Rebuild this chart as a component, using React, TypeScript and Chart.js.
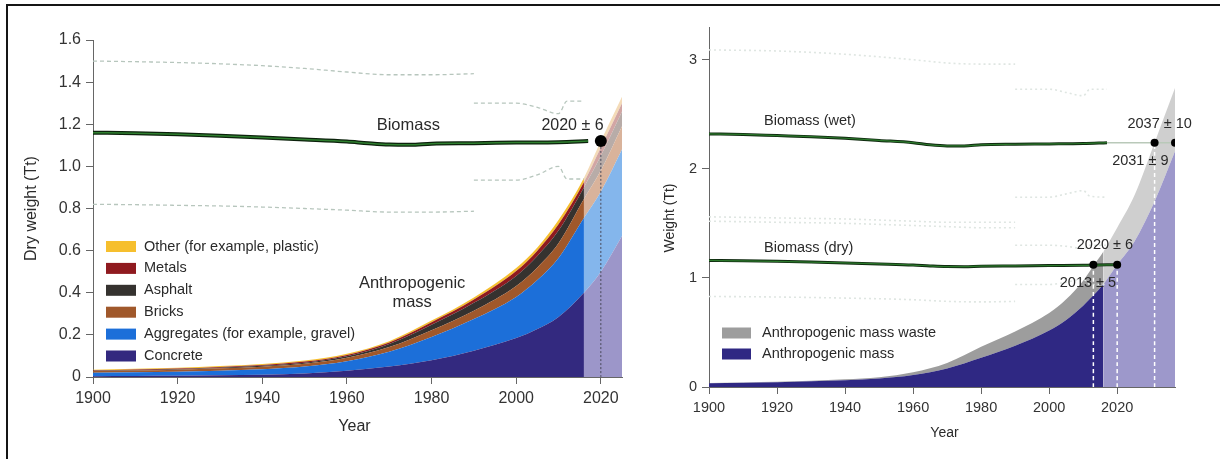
import React, { useEffect, useRef } from 'react';
import { Chart, registerables } from 'chart.js';

Chart.register(...registerables);

const FONT = '"Liberation Sans", Arial, Helvetica, sans-serif';
const TEXT = '#2a2a2a';
const AXIS = '#666666';

// ---------- Left panel: dry weight (Tt) ----------
const YEARS = [1900, 1910, 1920, 1930, 1940, 1950, 1960, 1970, 1980, 1990, 2000, 2005, 2010, 2016, 2020, 2025];
const CONCRETE = [0.004, 0.005, 0.006, 0.008, 0.011, 0.017, 0.030, 0.050, 0.080, 0.125, 0.185, 0.228, 0.285, 0.400, 0.500, 0.670];
const AGGREGATES = [0.016, 0.017, 0.019, 0.022, 0.026, 0.033, 0.045, 0.070, 0.110, 0.150, 0.195, 0.232, 0.280, 0.355, 0.380, 0.410];
const BRICKS = [0.008, 0.009, 0.010, 0.011, 0.012, 0.013, 0.016, 0.022, 0.032, 0.040, 0.052, 0.060, 0.070, 0.090, 0.100, 0.110];
const ASPHALT = [0.002, 0.002, 0.002, 0.003, 0.004, 0.005, 0.008, 0.015, 0.026, 0.037, 0.048, 0.055, 0.060, 0.055, 0.070, 0.070];
const METALS = [0.002, 0.003, 0.003, 0.004, 0.004, 0.005, 0.006, 0.007, 0.012, 0.016, 0.023, 0.025, 0.030, 0.025, 0.040, 0.040];
const OTHER = [0.003, 0.003, 0.004, 0.004, 0.005, 0.005, 0.005, 0.006, 0.008, 0.010, 0.015, 0.015, 0.020, 0.020, 0.030, 0.030];
const PROJECTION_START = 2016;

const BIO_YEARS = [1900, 1910, 1920, 1930, 1940, 1950, 1960, 1965, 1970, 1975, 1980, 1990, 2000, 2010, 2017];
const BIO_DRY = [1.160, 1.157, 1.152, 1.145, 1.137, 1.128, 1.118, 1.110, 1.104, 1.103, 1.108, 1.110, 1.113, 1.115, 1.120];

const UNC_HIST_YEARS = [1900, 1910, 1920, 1930, 1940, 1950, 1960, 1970, 1980, 1990];
const UNC_HIST_UP = [1.500, 1.497, 1.493, 1.487, 1.478, 1.465, 1.448, 1.435, 1.435, 1.440];
const UNC_HIST_LO = [0.820, 0.818, 0.815, 0.812, 0.807, 0.800, 0.792, 0.783, 0.783, 0.787];
const UNC_RECENT_YEARS = [1990, 2000, 2005, 2010, 2012, 2016];
const UNC_RECENT_UP = [1.30, 1.30, 1.28, 1.25, 1.31, 1.31];
const UNC_RECENT_LO = [0.935, 0.935, 0.960, 1.000, 0.940, 0.940];

const CROSS_LEFT = { year: 2020, value: 1.12, label: '2020 ± 6' };

const LEFT_TICKS_Y = [0, 0.2, 0.4, 0.6, 0.8, 1.0, 1.2, 1.4, 1.6];
const LEFT_LEGEND = ['Other (for example, plastic)', 'Metals', 'Asphalt', 'Bricks', 'Aggregates (for example, gravel)', 'Concrete'];

// ---------- Right panel: weight (Tt) ----------
const R_YEARS = [1900, 1910, 1920, 1930, 1940, 1950, 1960, 1970, 1980, 1990, 2000, 2005, 2010, 2013, 2016, 2020, 2025, 2031, 2037];
const R_MASS = [0.035, 0.039, 0.044, 0.052, 0.062, 0.078, 0.110, 0.170, 0.268, 0.378, 0.518, 0.615, 0.745, 0.840, 0.945, 1.120, 1.330, 1.700, 2.160];
const R_WASTE = [0.002, 0.003, 0.004, 0.006, 0.008, 0.012, 0.025, 0.050, 0.100, 0.130, 0.160, 0.190, 0.230, 0.270, 0.300, 0.340, 0.420, 0.540, 0.580];

const R_BIO_YEARS = [1900, 1910, 1920, 1930, 1940, 1950, 1960, 1965, 1970, 1975, 1980, 1990, 2000, 2010, 2017];
const R_BIO_WET = [2.320, 2.315, 2.305, 2.295, 2.280, 2.260, 2.240, 2.220, 2.210, 2.210, 2.220, 2.225, 2.228, 2.232, 2.240];
const R_BIO_DRY_YEARS = [1900, 1910, 1920, 1930, 1940, 1950, 1960, 1965, 1970, 1975, 1980, 1990, 2000, 2010, 2017, 2020];
const R_BIO_DRY = [1.160, 1.157, 1.152, 1.145, 1.137, 1.128, 1.118, 1.110, 1.104, 1.103, 1.108, 1.110, 1.113, 1.115, 1.120, 1.120];
const R_WET_PROJ_YEARS = [2017, 2037];
const R_WET_PROJ = [2.24, 2.24];

const R_UNC_HIST_YEARS = [1900, 1920, 1940, 1960, 1970, 1980, 1990];
const R_WET_UP = [3.09, 3.08, 3.05, 3.00, 2.97, 2.96, 2.96];
const R_WET_LO_A = [1.56, 1.55, 1.54, 1.52, 1.51, 1.51, 1.51];
const R_WET_LO_B = [1.52, 1.51, 1.50, 1.48, 1.47, 1.46, 1.46];
const R_DRY_LO = [0.83, 0.825, 0.815, 0.80, 0.785, 0.78, 0.785];
const R_UNC_RECENT_YEARS = [1990, 2000, 2005, 2010, 2012, 2017];
const R_WET_UP_RECENT = [2.73, 2.73, 2.70, 2.67, 2.73, 2.73];
const R_WET_LO_RECENT = [1.74, 1.74, 1.77, 1.80, 1.75, 1.74];
const R_DRY_UP_RECENT = [1.30, 1.30, 1.29, 1.27, 1.30, 1.30];
const R_DRY_LO_RECENT = [0.94, 0.94, 0.96, 0.99, 0.94, 0.94];

const R_CROSSINGS = [
  { year: 2013, value: 1.12, label: '2013 ± 5' },
  { year: 2020, value: 1.12, label: '2020 ± 6' },
  { year: 2031, value: 2.24, label: '2031 ± 9' },
  { year: 2037, value: 2.24, label: '2037 ± 10' },
];
const RIGHT_LEGEND = ['Anthropogenic mass waste', 'Anthropogenic mass'];

// ---------- helpers ----------
const pts = (xs: number[], ys: number[]) => xs.map((x, i) => ({ x, y: ys[i] }));

function areaSet(label: string, xs: number[], ys: number[], dark: string, light: string, first: boolean) {
  return {
    label,
    data: pts(xs, ys),
    stack: 'mass',
    fill: first ? 'origin' : '-1',
    backgroundColor: dark,
    borderColor: dark,
    borderWidth: 0,
    pointRadius: 0,
    cubicInterpolationMode: 'monotone',
    order: 5,
    segment: {
      backgroundColor: (c: any) => (c.p0.parsed.x >= PROJECTION_START ? light : dark),
    },
  };
}

let uid = 0;
function lineSet(data: any[], color: string, width: number, dash: number[] = [], order = 1) {
  uid += 1;
  return {
    data,
    stack: 'l' + uid,
    fill: false,
    borderColor: color,
    borderWidth: width,
    borderDash: dash,
    pointRadius: 0,
    cubicInterpolationMode: 'monotone',
    order,
  };
}

function dotSet(x: number, y: number, r: number) {
  uid += 1;
  return {
    data: [{ x, y }],
    stack: 'd' + uid,
    showLine: false,
    fill: false,
    pointRadius: r,
    pointBackgroundColor: '#000',
    pointBorderWidth: 0,
    order: -2,
  };
}

function axisOpts(min: number, max: number, step: number, size: number, fmt: (v: number) => string, tickLen: number, pad: number) {
  return {
    type: 'linear',
    min,
    max,
    ticks: {
      stepSize: step,
      includeBounds: false,
      autoSkip: false,
      maxRotation: 0,
      color: '#333',
      padding: pad,
      font: { family: FONT, size },
      callback: (v: any) => fmt(Number(v)),
    },
    grid: { drawOnChartArea: false, drawTicks: true, tickLength: tickLen, color: AXIS, lineWidth: 1 },
    border: { display: true, color: AXIS, width: 1 },
  };
}

function textAt(ctx: CanvasRenderingContext2D, t: string, x: number, y: number, size: number, align: CanvasTextAlign = 'center', rot = 0) {
  ctx.save();
  ctx.font = `${size}px ${FONT}`;
  ctx.fillStyle = TEXT;
  ctx.textAlign = align;
  ctx.textBaseline = 'middle';
  ctx.translate(x, y);
  if (rot) ctx.rotate(rot);
  ctx.fillText(t, 0, 0);
  ctx.restore();
}

const LEFT_COLORS = ['#f6bf2e', '#8f1a1f', '#35322f', '#a0582b', '#1c6fd9', '#33297f'];

function buildLeft(canvas: HTMLCanvasElement) {
  const datasets: any[] = [
    areaSet('Concrete', YEARS, CONCRETE, '#33297f', '#9c96c9', true),
    areaSet('Aggregates', YEARS, AGGREGATES, '#1c6fd9', '#84b6ec', false),
    areaSet('Bricks', YEARS, BRICKS, '#a0582b', '#d9b39b', false),
    areaSet('Asphalt', YEARS, ASPHALT, '#35322f', '#b8aca8', false),
    areaSet('Metals', YEARS, METALS, '#8f1a1f', '#d2a6a4', false),
    areaSet('Other', YEARS, OTHER, '#f6bf2e', '#f4dbb8', false),
    lineSet(pts(UNC_HIST_YEARS, UNC_HIST_UP), '#b7c6bd', 1.3, [4, 3]),
    lineSet(pts(UNC_HIST_YEARS, UNC_HIST_LO), '#b7c6bd', 1.3, [4, 3]),
    lineSet(pts(UNC_RECENT_YEARS, UNC_RECENT_UP), '#b7c6bd', 1.3, [4, 3]),
    lineSet(pts(UNC_RECENT_YEARS, UNC_RECENT_LO), '#b7c6bd', 1.3, [4, 3]),
    lineSet([{ x: CROSS_LEFT.year, y: 0 }, { x: CROSS_LEFT.year, y: CROSS_LEFT.value }], '#4a4a5a', 1, [2, 2], -1),
    lineSet(pts(BIO_YEARS, BIO_DRY), '#0c220c', 4, [], 0),
    lineSet(pts(BIO_YEARS, BIO_DRY), '#2f7f2f', 1.5, [], -1),
    dotSet(CROSS_LEFT.year, CROSS_LEFT.value, 6),
  ];

  const plugin = {
    id: 'leftText',
    afterDraw(chart: any) {
      const ctx = chart.ctx;
      const xs = chart.scales.x;
      const ys = chart.scales.y;
      const a = chart.chartArea;
      textAt(ctx, 'Dry weight (Tt)', 32, (a.top + a.bottom) / 2, 16, 'center', -Math.PI / 2);
      textAt(ctx, 'Year', (a.left + a.right) / 2 - 3, 427, 16);
      textAt(ctx, 'Biomass', xs.getPixelForValue(1974.5), ys.getPixelForValue(1.195), 16.5);
      textAt(ctx, CROSS_LEFT.label, xs.getPixelForValue(2013.3), ys.getPixelForValue(1.195), 16);
      textAt(ctx, 'Anthropogenic', xs.getPixelForValue(1975.4), ys.getPixelForValue(0.445), 16.5);
      textAt(ctx, 'mass', xs.getPixelForValue(1975.4), ys.getPixelForValue(0.355), 16.5);
      LEFT_LEGEND.forEach((t, i) => {
        const cy = 246.5 + i * 21.9;
        ctx.fillStyle = LEFT_COLORS[i];
        ctx.fillRect(a.left + 13, cy - 5.5, 30, 11);
        textAt(ctx, t, a.left + 51, cy, 14.5, 'left');
      });
    },
  };

  return new Chart(canvas, {
    type: 'line',
    data: { datasets },
    plugins: [plugin],
    options: {
      responsive: false,
      animation: false,
      events: [],
      layout: { padding: { left: 0, top: 40, right: 8, bottom: 0 } },
      plugins: { legend: { display: false }, tooltip: { enabled: false } },
      scales: {
        x: {
          ...axisOpts(1900, 2025, 20, 16, (v) => String(v), 7, 5),
          afterFit: (s: any) => { s.height = 82; },
        },
        y: {
          ...axisOpts(0, 1.6, 0.2, 16, (v) => (Math.abs(v) < 1e-9 ? '0' : v.toFixed(1)), 7, 5),
          stacked: true,
          afterBuildTicks: (s: any) => { s.ticks = LEFT_TICKS_Y.map((value) => ({ value })); },
          afterFit: (s: any) => { s.width = 93; },
        },
      },
    } as any,
  });
}

function buildRight(canvas: HTMLCanvasElement) {
  const faint = '#dfe6e2';
  const datasets: any[] = [
    areaSet('Anthropogenic mass', R_YEARS, R_MASS, '#2f2883', '#9d98cb', true),
    areaSet('Anthropogenic mass waste', R_YEARS, R_WASTE, '#9d9d9d', '#cfcfcf', false),
    lineSet(pts(R_UNC_HIST_YEARS, R_WET_UP), faint, 1.6, [2, 3]),
    lineSet(pts(R_UNC_HIST_YEARS, R_WET_LO_A), faint, 1.6, [2, 3]),
    lineSet(pts(R_UNC_HIST_YEARS, R_WET_LO_B), faint, 1.6, [2, 3]),
    lineSet(pts(R_UNC_HIST_YEARS, R_DRY_LO), faint, 1.6, [2, 3]),
    lineSet(pts(R_UNC_RECENT_YEARS, R_WET_UP_RECENT), faint, 1.6, [2, 3]),
    lineSet(pts(R_UNC_RECENT_YEARS, R_WET_LO_RECENT), faint, 1.6, [2, 3]),
    lineSet(pts(R_UNC_RECENT_YEARS, R_DRY_UP_RECENT), faint, 1.6, [2, 3]),
    lineSet(pts(R_UNC_RECENT_YEARS, R_DRY_LO_RECENT), faint, 1.6, [2, 3]),
    ...R_CROSSINGS.slice(0, 3).map((c) =>
      lineSet([{ x: c.year, y: 0 }, { x: c.year, y: c.value }], '#ffffff', 1.5, [4, 3], -1)),
    lineSet(pts(R_WET_PROJ_YEARS, R_WET_PROJ), '#b9c9b9', 1.5, [], 0),
    lineSet(pts(R_BIO_YEARS, R_BIO_WET), '#102a10', 3, [], 0),
    lineSet(pts(R_BIO_YEARS, R_BIO_WET), '#2c7a2c', 1.2, [], -1),
    lineSet(pts(R_BIO_DRY_YEARS, R_BIO_DRY), '#102a10', 3, [], 0),
    lineSet(pts(R_BIO_DRY_YEARS, R_BIO_DRY), '#2c7a2c', 1.2, [], -1),
    ...R_CROSSINGS.map((c) => dotSet(c.year, c.value, 4)),
  ];

  const plugin = {
    id: 'rightText',
    afterDraw(chart: any) {
      const ctx = chart.ctx;
      const xs = chart.scales.x;
      const ys = chart.scales.y;
      const a = chart.chartArea;
      textAt(ctx, 'Weight (Tt)', 40, 218, 14, 'center', -Math.PI / 2);
      textAt(ctx, 'Year', 314.5, 433, 14);
      textAt(ctx, 'Biomass (wet)', a.left + 55, ys.getPixelForValue(2.435), 14.5, 'left');
      textAt(ctx, 'Biomass (dry)', a.left + 55, ys.getPixelForValue(1.275), 14.5, 'left');
      textAt(ctx, R_CROSSINGS[3].label, xs.getPixelForValue(2032.5), ys.getPixelForValue(2.415), 14.5);
      textAt(ctx, R_CROSSINGS[2].label, xs.getPixelForValue(2026.8), ys.getPixelForValue(2.07), 14.5);
      textAt(ctx, R_CROSSINGS[1].label, xs.getPixelForValue(2016.4), ys.getPixelForValue(1.305), 14.5);
      textAt(ctx, R_CROSSINGS[0].label, xs.getPixelForValue(2011.4), ys.getPixelForValue(0.955), 14.5);
      const legendColors = ['#9d9d9d', '#2f2883'];
      RIGHT_LEGEND.forEach((t, i) => {
        const cy = 333 + i * 21;
        ctx.fillStyle = legendColors[i];
        ctx.fillRect(a.left + 13, cy - 5.5, 29, 11);
        textAt(ctx, t, a.left + 53, cy, 14.5, 'left');
      });
    },
  };

  return new Chart(canvas, {
    type: 'line',
    data: { datasets },
    plugins: [plugin],
    options: {
      responsive: false,
      animation: false,
      events: [],
      layout: { padding: { left: 0, top: 27, right: 45, bottom: 0 } },
      plugins: { legend: { display: false }, tooltip: { enabled: false } },
      scales: {
        x: {
          ...axisOpts(1900, 2037, 20, 14.5, (v) => String(v), 7, 5),
          afterFit: (s: any) => { s.height = 72; },
        },
        y: {
          ...axisOpts(0, 3.3, 1, 14.5, (v) => String(Math.round(v)), 7, 5),
          stacked: true,
          afterFit: (s: any) => { s.width = 79; },
        },
      },
    } as any,
  });
}

export default function App() {
  const leftRef = useRef<HTMLCanvasElement | null>(null);
  const rightRef = useRef<HTMLCanvasElement | null>(null);

  useEffect(() => {
    const l = buildLeft(leftRef.current as HTMLCanvasElement);
    const r = buildRight(rightRef.current as HTMLCanvasElement);
    return () => {
      l.destroy();
      r.destroy();
    };
  }, []);

  return (
    <div style={{ position: 'absolute', left: 0, top: 0, width: 1220, height: 459, background: '#fff', overflow: 'hidden' }}>
      <div style={{ position: 'absolute', left: 6, top: 4, width: 1214, height: 455, borderTop: '2px solid #151515', borderLeft: '2px solid #151515', boxSizing: 'border-box' }} />
      <canvas ref={leftRef} width={630} height={459} style={{ position: 'absolute', left: 0, top: 0, width: 630, height: 459 }} />
      <canvas ref={rightRef} width={590} height={459} style={{ position: 'absolute', left: 630, top: 0, width: 590, height: 459 }} />
    </div>
  );
}
